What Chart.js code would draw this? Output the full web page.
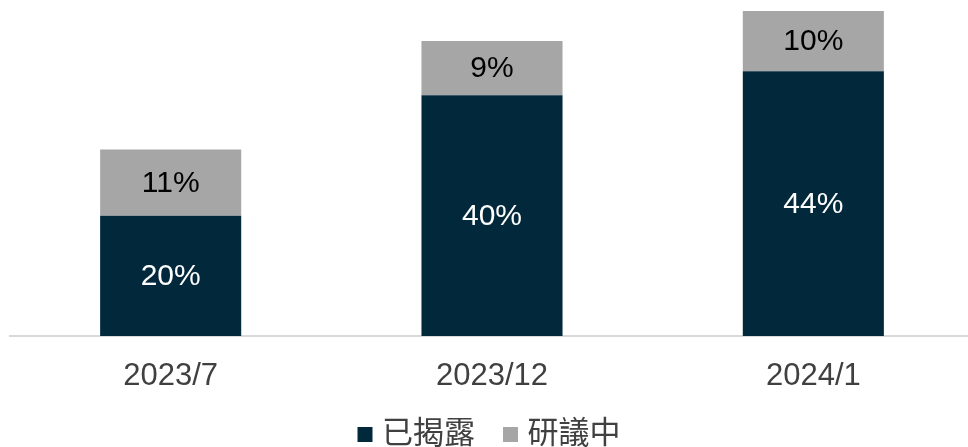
<!DOCTYPE html>
<html>
<head>
<meta charset="utf-8">
<script src="https://cdn.jsdelivr.net/npm/chart.js@4.4.1/dist/chart.umd.min.js"></script>
<style>
  html, body { margin: 0; padding: 0; background: #fff; overflow: hidden; }
  #wrap { width: 975px; height: 447px; }
</style>
</head>
<body>
<div id="wrap"><canvas id="c" width="975" height="447"></canvas></div>
<script>
const categories = ['2023/7', '2023/12', '2024/1'];
const disclosed = [20, 40, 44];   // 已揭露
const discussing = [11, 9, 10];   // 研議中
const seriesNames = ['已揭露', '研議中'];

const FONT = "'Liberation Sans', 'Noto Sans CJK TC', Arial, sans-serif";

const labelPlugin = {
  id: 'barLabels',
  afterDatasetsDraw(chart) {
    const ctx = chart.ctx;
    ctx.save();
    ctx.font = '30px ' + FONT;
    ctx.textAlign = 'center';
    ctx.textBaseline = 'middle';
    chart.data.datasets.forEach((ds, di) => {
      const meta = chart.getDatasetMeta(di);
      meta.data.forEach((bar, i) => {
        const p = bar.getProps(['x', 'y', 'base'], true);
        const cy = (p.y + p.base) / 2 + 1;
        ctx.fillStyle = di === 0 ? '#FFFFFF' : '#000000';
        ctx.fillText(ds.data[i] + '%', p.x, cy);
      });
    });
    ctx.restore();
  }
};

new Chart(document.getElementById('c'), {
  type: 'bar',
  data: {
    labels: categories,
    datasets: [
      { label: seriesNames[0], data: disclosed, backgroundColor: '#02283C', borderWidth: 0, pointStyle: 'rect' },
      { label: seriesNames[1], data: discussing, backgroundColor: '#A6A6A6', borderWidth: 0, pointStyle: 'rect' }
    ]
  },
  options: {
    responsive: false,
    animation: false,
    layout: { padding: { left: 10, right: 1, top: 5, bottom: -13 } },
    datasets: { bar: { barPercentage: 0.439, categoryPercentage: 1.0 } },
    scales: {
      x: {
        stacked: true,
        grid: { display: false, drawTicks: false },
        border: { display: true, color: '#D9D9D9', width: 2 },
        ticks: { color: '#404040', font: { family: FONT, size: 31 }, padding: 22 },
        afterFit(scale) { scale.height = 49; }
      },
      y: {
        stacked: true,
        display: false,
        min: 0,
        max: 55
      }
    },
    plugins: {
      legend: {
        position: 'bottom',
        labels: {
          color: '#404040',
          font: { family: FONT, size: 31 },
          usePointStyle: true,
          boxWidth: 3,
          boxHeight: 15,
          padding: 34
        }
      },
      tooltip: { enabled: false }
    }
  },
  plugins: [labelPlugin]
});
</script>
</body>
</html>
